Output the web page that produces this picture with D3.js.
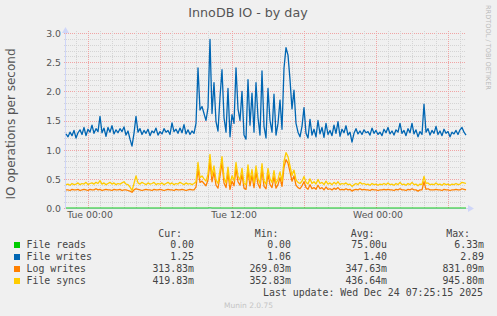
<!DOCTYPE html>
<html>
<head>
<meta charset="utf-8">
<script src="https://cdn.jsdelivr.net/npm/d3@7"></script>
<style>
  body { margin: 0; background: #f0f0f0; }
  svg { display: block; }
</style>
</head>
<body>
<script>
// 10-minute samples, first one at Mon 22:10 UTC
const startTime = Date.UTC(2025, 11, 22, 22, 10);
const stepMinutes = 10;

const fileReads = [
  0,0,0,0,0,0,0,0,0,0, 0,0,0,0,0,0,0,0,0,0,
  0,0,0,0,0,0,0,0,0,0, 0,0,0,0,0,0,0,0,0,0,
  0,0,0,0,0,0,0,0,0,0, 0,0,0,0,0,0,0,0,0,0,
  0,0,0,0,0,0,0,0,0,0, 0,0,0.006,0,0,0,0,0,0,0,
  0,0,0,0,0,0,0,0,0,0, 0,0,0,0,0,0,0,0,0,0,
  0,0,0,0,0,0,0,0,0,0, 0,0,0,0,0,0,0,0,0,0,
  0,0,0,0,0,0,0,0,0,0, 0,0,0,0,0,0,0,0,0,0,
  0,0,0,0,0,0,0,0,0,0, 0,0,0,0,0,0,0,0,0,0,
  0,0,0,0,0,0,0,0,0,0, 0,0,0,0,0,0,0,0,0,0,
  0,0,0,0,0,0,0,0,0,0, 0,0,0,0,0,0,0,0,0,0,
  0
];

const fileWrites = [
  1.27,1.22,1.30,1.24,1.33,1.20,1.29,1.34,1.26,1.38,
  1.24,1.35,1.30,1.42,1.28,1.36,1.31,1.57,1.29,1.37,
  1.23,1.38,1.30,1.41,1.27,1.34,1.29,1.36,1.31,1.39,
  1.25,1.32,1.18,1.06,1.28,1.57,1.30,1.36,1.26,1.33,
  1.28,1.35,1.24,1.32,1.29,1.37,1.25,1.31,1.27,1.36,
  1.30,1.33,1.26,1.46,1.31,1.35,1.28,1.37,1.29,1.43,
  1.27,1.34,1.26,1.32,1.28,1.45,2.40,1.68,1.74,1.62,
  1.50,1.72,2.89,1.62,2.15,1.48,1.32,1.90,2.37,1.55,
  1.30,2.05,1.22,1.60,1.45,2.40,1.70,1.50,2.00,1.25,
  1.18,2.20,1.42,1.97,1.30,2.15,1.55,1.25,2.35,1.40,
  1.20,2.05,1.50,1.30,1.95,1.25,1.45,1.85,1.35,2.40,
  2.75,2.62,2.20,1.70,2.02,1.45,1.30,1.22,1.40,1.72,
  1.28,1.20,1.52,1.25,1.35,1.22,1.50,1.27,1.38,1.21,
  1.45,1.26,1.33,1.24,1.42,1.28,1.48,1.23,1.35,1.29,
  1.41,1.25,1.30,1.13,1.28,1.36,1.27,1.32,1.26,1.34,
  1.29,1.31,1.25,1.37,1.28,1.33,1.26,1.30,1.24,1.35,
  1.29,1.38,1.27,1.32,1.25,1.34,1.30,1.45,1.28,1.33,
  1.24,1.36,1.29,1.45,1.27,1.34,1.22,1.31,1.26,1.78,
  1.30,1.36,1.25,1.33,1.28,1.40,1.26,1.32,1.24,1.35,
  1.28,1.31,1.22,1.30,1.27,1.33,1.26,1.34,1.38,1.30,
  1.25
];

const logWrites = [
  0.31,0.31,0.30,0.32,0.31,0.31,0.32,0.30,0.31,0.32,
  0.31,0.30,0.32,0.31,0.31,0.33,0.31,0.32,0.30,0.31,
  0.32,0.31,0.31,0.30,0.32,0.31,0.31,0.32,0.30,0.31,
  0.31,0.30,0.29,0.27,0.31,0.33,0.32,0.31,0.30,0.31,
  0.32,0.31,0.31,0.30,0.32,0.31,0.31,0.32,0.31,0.30,
  0.31,0.32,0.31,0.31,0.30,0.32,0.31,0.31,0.32,0.31,
  0.30,0.31,0.32,0.31,0.31,0.36,0.66,0.44,0.46,0.42,
  0.38,0.48,0.80,0.45,0.62,0.39,0.34,0.55,0.78,0.43,
  0.35,0.60,0.32,0.46,0.38,0.68,0.45,0.39,0.58,0.34,
  0.32,0.64,0.38,0.56,0.35,0.62,0.41,0.34,0.66,0.37,
  0.33,0.58,0.40,0.35,0.54,0.34,0.40,0.52,0.37,0.70,
  0.83,0.77,0.62,0.46,0.55,0.39,0.35,0.33,0.38,0.45,
  0.35,0.32,0.40,0.33,0.35,0.32,0.39,0.33,0.35,0.31,
  0.36,0.32,0.33,0.31,0.34,0.32,0.35,0.31,0.32,0.31,
  0.33,0.31,0.32,0.29,0.31,0.32,0.31,0.33,0.31,0.32,
  0.31,0.31,0.30,0.32,0.31,0.31,0.30,0.31,0.31,0.32,
  0.31,0.32,0.31,0.31,0.30,0.32,0.31,0.33,0.31,0.31,
  0.30,0.32,0.31,0.33,0.31,0.31,0.29,0.31,0.31,0.45,
  0.32,0.33,0.31,0.31,0.31,0.32,0.31,0.31,0.30,0.32,
  0.31,0.31,0.30,0.31,0.31,0.32,0.31,0.31,0.33,0.32,
  0.31
];

const fileSyncs = [
  0.40,0.41,0.39,0.42,0.40,0.41,0.43,0.40,0.42,0.41,
  0.44,0.40,0.42,0.43,0.41,0.44,0.42,0.47,0.41,0.43,
  0.40,0.42,0.44,0.41,0.43,0.40,0.42,0.41,0.43,0.45,
  0.41,0.40,0.36,0.30,0.42,0.55,0.43,0.41,0.44,0.42,
  0.40,0.43,0.41,0.42,0.44,0.40,0.42,0.41,0.43,0.40,
  0.42,0.44,0.41,0.43,0.40,0.42,0.41,0.44,0.42,0.40,
  0.43,0.41,0.42,0.40,0.42,0.45,0.78,0.52,0.55,0.50,
  0.46,0.58,0.92,0.55,0.72,0.48,0.42,0.65,0.88,0.52,
  0.43,0.70,0.40,0.55,0.47,0.78,0.55,0.48,0.68,0.42,
  0.40,0.74,0.47,0.66,0.43,0.72,0.50,0.42,0.76,0.46,
  0.41,0.68,0.50,0.44,0.64,0.42,0.49,0.62,0.46,0.80,
  0.95,0.88,0.72,0.56,0.65,0.48,0.44,0.42,0.46,0.54,
  0.44,0.41,0.50,0.42,0.45,0.41,0.49,0.42,0.44,0.40,
  0.46,0.41,0.43,0.40,0.44,0.41,0.45,0.40,0.42,0.41,
  0.43,0.40,0.41,0.37,0.40,0.42,0.40,0.44,0.41,0.42,
  0.40,0.41,0.39,0.42,0.40,0.41,0.39,0.41,0.40,0.42,
  0.40,0.43,0.40,0.41,0.39,0.42,0.40,0.44,0.40,0.41,
  0.39,0.42,0.40,0.44,0.40,0.41,0.38,0.41,0.40,0.54,
  0.42,0.43,0.40,0.41,0.40,0.43,0.40,0.41,0.39,0.42,
  0.40,0.41,0.39,0.41,0.40,0.42,0.40,0.41,0.44,0.43,
  0.42
];

const seriesNames = ["File reads", "File writes", "Log writes", "File syncs"];
const seriesColors = ["#00cc00", "#0066b3", "#ff8000", "#ffcc00"];
const curLabels = ["0.00 ", "1.25 ", "313.83m", "419.83m"];
const minLabels = ["0.00 ", "1.06 ", "269.03m", "352.83m"];
const avgLabels = ["75.00u", "1.40 ", "347.63m", "436.64m"];
const maxLabels = ["6.33m", "2.89 ", "831.09m", "945.80m"];
const xTicks = [Date.UTC(2025, 11, 23, 0), Date.UTC(2025, 11, 23, 12), Date.UTC(2025, 11, 24, 0)];
const yTicks = [0, 0.5, 1.0, 1.5, 2.0, 2.5, 3.0];

let width = 497;
let height = 316;
let svg = d3.select("body").append("svg").attr("width", width).attr("height", height);
svg.append("rect").attr("width", width).attr("height", height).attr("fill", "#f0f0f0");

let plot = {left: 66, right: 466, top: 33, bottom: 208};
let n = fileWrites.length;
let x = d3.scaleUtc()
    .domain([new Date(startTime), new Date(startTime + (n - 1) * stepMinutes * 60000)])
    .range([plot.left, plot.right]);
let y = d3.scaleLinear().domain([0, 3]).range([plot.bottom, plot.top]);

// grid: minor every 0.1 / 1 hour, major every 0.5 / 6 hours
let grid = svg.append("g").attr("fill", "none").attr("stroke-width", 1).attr("stroke-dasharray", "1,1");
grid.selectAll(".hmin")
    .data(d3.range(0, 31).map(i => i / 10))
    .join("line")
    .attr("x1", plot.left - 2).attr("x2", plot.right)
    .attr("y1", d => Math.round(y(d)) + 0.5).attr("y2", d => Math.round(y(d)) + 0.5)
    .attr("stroke", d => Math.abs(d * 2 - Math.round(d * 2)) < 1e-6 ? "#f0a4a4" : "#d4d4d4");
grid.selectAll(".vmin")
    .data(x.ticks(d3.utcHour.every(1)))
    .join("line")
    .attr("x1", d => Math.round(x(d)) + 0.5).attr("x2", d => Math.round(x(d)) + 0.5)
    .attr("y1", plot.top - 2).attr("y2", plot.bottom)
    .attr("stroke", d => d.getUTCHours() % 6 === 0 ? "#f0a4a4" : "#d4d4d4");

// axes lines with arrows
let axisColor = "#cfd6f8";
svg.append("line").attr("x1", plot.left - 0.5).attr("x2", plot.left - 0.5)
    .attr("y1", plot.bottom + 0.5).attr("y2", plot.top - 4).attr("stroke", axisColor);
svg.append("path").attr("d", `M${plot.left - 4},${plot.top}L${plot.left - 0.5},${plot.top - 6}L${plot.left + 3},${plot.top}Z`)
    .attr("fill", axisColor);
svg.append("line").attr("x1", plot.left - 1).attr("x2", plot.right + 4)
    .attr("y1", plot.bottom + 0.5).attr("y2", plot.bottom + 0.5).attr("stroke", axisColor);
svg.append("path").attr("d", `M${plot.right + 2},${plot.bottom - 3}L${plot.right + 8},${plot.bottom + 0.5}L${plot.right + 2},${plot.bottom + 4}Z`)
    .attr("fill", axisColor);

// series
let series = [fileReads, fileWrites, logWrites, fileSyncs];
let line = d3.line()
    .x((d, i) => x(new Date(startTime + i * stepMinutes * 60000)))
    .y(d => y(d));
svg.append("g")
    .attr("fill", "none")
    .attr("stroke-width", 1.3)
    .attr("stroke-linejoin", "round")
    .selectAll("path")
    .data(series)
    .join("path")
    .attr("stroke", (d, i) => seriesColors[i])
    .attr("stroke-opacity", (d, i) => i === 0 ? 0.6 : 1)
    .attr("d", line);

// axis labels
let yAxis = d3.axisLeft(y).tickValues(yTicks).tickFormat(d3.format(".1f")).tickSize(0).tickPadding(4);
svg.append("g")
    .attr("transform", `translate(${plot.left - 1},0.5)`)
    .call(yAxis)
    .call(g => g.select(".domain").remove())
    .call(g => g.selectAll("text").attr("fill", "#555").attr("font-family", "DejaVu Sans").attr("font-size", 9.3));

let xAxis = d3.axisBottom(x).tickValues(xTicks.map(t => new Date(t))).tickFormat(d3.utcFormat("%a %H:%M")).tickSize(0).tickPadding(3);
svg.append("g")
    .attr("transform", `translate(1.5,${plot.bottom + 0.5})`)
    .call(xAxis)
    .call(g => g.select(".domain").remove())
    .call(g => g.selectAll("text").attr("fill", "#555").attr("font-family", "DejaVu Sans").attr("font-size", 9.3));

// title and side texts
svg.append("text")
    .attr("x", 248).attr("y", 17)
    .attr("text-anchor", "middle")
    .attr("font-family", "DejaVu Sans").attr("font-size", 12.7)
    .attr("fill", "#555")
    .text("InnoDB IO - by day");

svg.append("text")
    .attr("transform", "translate(15,124) rotate(-90)")
    .attr("text-anchor", "middle")
    .attr("font-family", "DejaVu Sans").attr("font-size", 12)
    .attr("fill", "#555")
    .text("IO operations per second");

svg.append("text")
    .attr("transform", "translate(486,5) rotate(90)")
    .attr("font-family", "DejaVu Sans").attr("font-size", 6.6)
    .attr("fill", "#bbb")
    .text("RRDTOOL / TOBI OETIKER");

// legend
let legend = svg.append("g")
    .attr("font-family", "DejaVu Sans Mono")
    .attr("font-size", 9.9)
    .attr("fill", "#444")
    .style("white-space", "pre");

let headers = [["Cur:", 182], ["Min:", 278.5], ["Avg:", 374.5], ["Max:", 470]];
legend.selectAll(".hdr")
    .data(headers)
    .join("text")
    .attr("x", d => d[1]).attr("y", 236.5)
    .attr("text-anchor", "end")
    .text(d => d[0]);

let rowY = i => 248.2 + i * 12;
legend.selectAll("rect")
    .data(seriesNames)
    .join("rect")
    .attr("x", 14).attr("y", (d, i) => rowY(i) - 6.2)
    .attr("width", 6).attr("height", 6)
    .attr("fill", (d, i) => seriesColors[i]);

legend.selectAll(".name")
    .data(seriesNames)
    .join("text")
    .attr("x", 26.5).attr("y", (d, i) => rowY(i))
    .text(d => d);

let cols = [[curLabels, 194], [minLabels, 291], [avgLabels, 387], [maxLabels, 484]];
cols.forEach(([labels, right]) => {
    legend.append("g").selectAll("text")
        .data(labels)
        .join("text")
        .attr("x", right).attr("y", (d, i) => rowY(i))
        .attr("text-anchor", "end")
        .text(d => d);
});

legend.append("text")
    .attr("x", 483).attr("y", 295.8)
    .attr("text-anchor", "end")
    .text("Last update: Wed Dec 24 07:25:15 2025");

svg.append("text")
    .attr("x", 248.5).attr("y", 307.5)
    .attr("text-anchor", "middle")
    .attr("font-family", "DejaVu Sans").attr("font-size", 7.5)
    .attr("fill", "#c4c4c4")
    .text("Munin 2.0.75");
</script>
</body>
</html>
